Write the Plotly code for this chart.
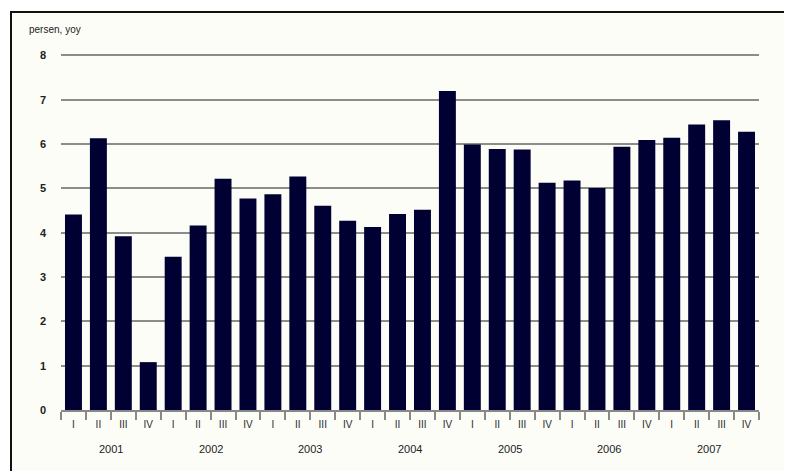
import plotly.graph_objects as go

year_labels = ["2001", "2002", "2003", "2004", "2005", "2006", "2007"]
quarter_labels = ["I", "II", "III", "IV"]
values = [4.41, 6.13, 3.92, 1.08,
          3.46, 4.16, 5.22, 4.77,
          4.87, 5.27, 4.61, 4.27,
          4.13, 4.42, 4.52, 7.20,
          5.99, 5.89, 5.88, 5.13,
          5.18, 5.01, 5.94, 6.09,
          6.14, 6.44, 6.54, 6.28]
y_ticks = [0, 1, 2, 3, 4, 5, 6, 7, 8]
y_title = "persen, yoy"

cats = [f"{y} {q}" for y in year_labels for q in quarter_labels]
qtext = [q for y in year_labels for q in quarter_labels]

# page body has an 8px margin; shift everything by it
OFF = 8
W, H = 792 - OFF, 471 - OFF
Y_TOP = 8.1
UNIT = (410 - 55) / 8.0
L, R = 61 - OFF, 792 - 759
T = round(55 - (Y_TOP - 8) * UNIT) - OFF
B = 471 - 410

fig = go.Figure()
fig.add_trace(go.Bar(
    x=cats, y=values,
    marker=dict(color="#000033", line=dict(width=0)),
    width=0.68,
))

def px_x(p):
    return (p - OFF - L) / (W - L - R)

def px_y(p):
    return 1 - (p - OFF - T) / (H - T - B)

annotations = [
    dict(text=y_title, xref="paper", yref="paper", x=px_x(27), y=px_y(29),
         xanchor="left", yanchor="middle", showarrow=False,
         font=dict(size=10, color="#222222")),
]
for i, yl in enumerate(year_labels):
    annotations.append(dict(
        text=yl, xref="x", yref="paper", x=4 * i + 1.5, y=px_y(449),
        xanchor="center", yanchor="middle", showarrow=False,
        font=dict(size=11, color="#222222"),
    ))

fig.update_layout(
    width=W, height=H,
    margin=dict(l=L, r=R, t=T, b=B),
    paper_bgcolor="white",
    plot_bgcolor="rgba(0,0,0,0)",
    showlegend=False,
    font=dict(family="Liberation Sans, Arial, sans-serif", color="#222222"),
    shapes=[
        dict(type="rect", xref="paper", yref="paper",
             x0=px_x(11), x1=px_x(W + 40), y0=px_y(H + 40), y1=px_y(12),
             fillcolor="#fdfdf8", line=dict(color="#111111", width=2), layer="below"),
    ],
    annotations=annotations,
    xaxis=dict(
        type="category",
        tickmode="array", tickvals=cats, ticktext=qtext,
        tickson="boundaries",
        ticks="outside", ticklen=8, tickcolor="#888888", tickwidth=1.5,
        showline=True, linecolor="#888888", linewidth=1.5,
        tickfont=dict(size=10, color="#2a2a2a"),
        ticklabelstandoff=4,
        showgrid=False,
        range=[-0.5, 27.5],
    ),
    yaxis=dict(
        range=[0, Y_TOP], tickvals=y_ticks,
        showgrid=True, gridcolor="#8c8c8c", gridwidth=1.5,
        zeroline=False, showline=False, ticks="",
        ticklabelstandoff=14,
        tickfont=dict(size=11, color="#222222", weight="bold"),
    ),
    bargap=0.32,
)

fig.write_html("out.html")
